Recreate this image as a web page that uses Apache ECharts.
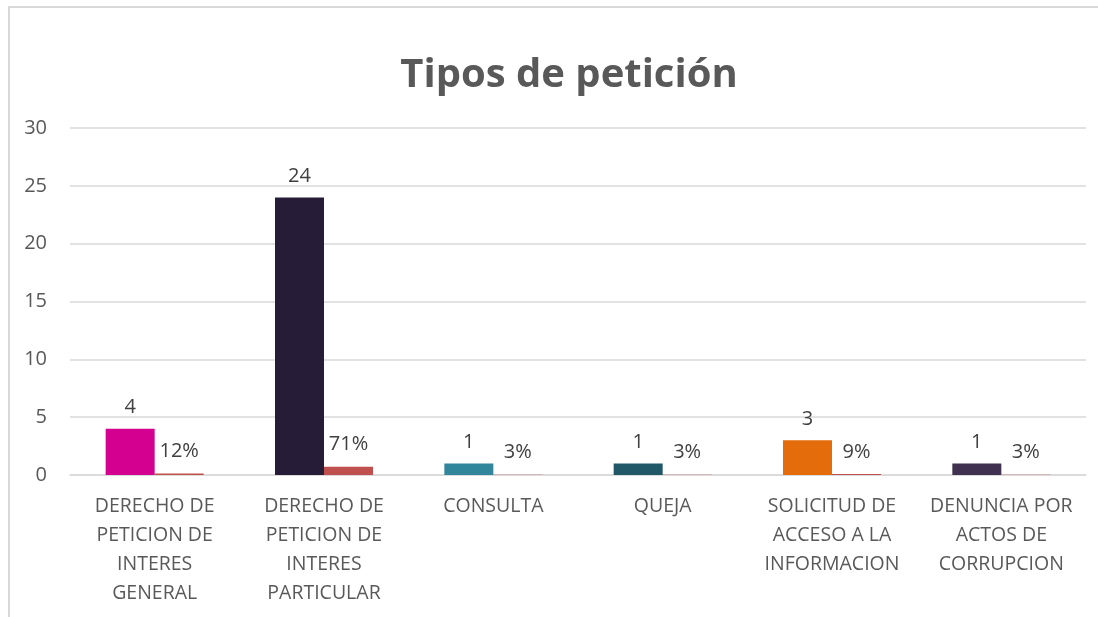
<!DOCTYPE html>
<html>
<head>
<meta charset="utf-8">
<script src="https://cdn.jsdelivr.net/npm/echarts@6/dist/echarts.min.js"></script>
<style>
html,body{margin:0;padding:0;background:#fff;}
#chart{width:1098px;height:617px;}
</style>
</head>
<body>
<div id="chart"></div>
<script>
const categories = [
  "DERECHO DE\nPETICION DE\nINTERES\nGENERAL",
  "DERECHO DE\nPETICION DE\nINTERES\nPARTICULAR",
  "CONSULTA",
  "QUEJA",
  "SOLICITUD DE\nACCESO A LA\nINFORMACION",
  "DENUNCIA POR\nACTOS DE\nCORRUPCION"
];
const counts = [4, 24, 1, 1, 3, 1];
const percents = [0.12, 0.71, 0.03, 0.03, 0.09, 0.03];
const countColors = ["#D4008F", "#261C38", "#31869B", "#215868", "#E46C0A", "#403151"];
const yTicks = [0, 5, 10, 15, 20, 25, 30];

const FONT = "'Open Sans', 'Liberation Sans', sans-serif";
const chart = echarts.init(document.getElementById('chart'));
chart.setOption({
  animation: false,
  backgroundColor: '#ffffff',
  graphic: [{
    type: 'polyline',
    shape: { points: [[9, 617], [9, 7], [1098, 7]] },
    style: { stroke: '#d9d9d9', lineWidth: 2, fill: null },
    silent: true
  }],
  title: {
    text: 'Tipos de petición',
    left: 564,
    top: 51,
    textAlign: 'center',
    textStyle: { fontFamily: FONT, fontSize: 40, fontWeight: 'bold', color: '#595959' }
  },
  grid: { left: 70, right: 12, top: 128, bottom: 142, containLabel: false },
  xAxis: {
    type: 'category',
    data: categories,
    axisLine: { show: true, lineStyle: { color: '#d9d9d9', width: 1.5 } },
    axisTick: { show: false },
    axisLabel: {
      interval: 0,
      fontFamily: FONT,
      fontSize: 19.5,
      color: '#595959',
      lineHeight: 29,
      margin: 17
    }
  },
  yAxis: {
    type: 'value',
    min: yTicks[0],
    max: yTicks[yTicks.length - 1],
    interval: 5,
    axisLine: { show: false },
    axisTick: { show: false },
    splitLine: { lineStyle: { color: '#d9d9d9', width: 1.5 } },
    axisLabel: { fontFamily: FONT, fontSize: 20, color: '#595959', margin: 23 }
  },
  series: [
    {
      name: 'Cantidad',
      type: 'bar',
      barWidth: 49,
      barGap: '0%',
      data: counts.map((v, i) => ({ value: v, itemStyle: { color: countColors[i] } })),
      label: {
        show: true,
        position: 'top',
        distance: 11,
        fontFamily: FONT,
        fontSize: 20,
        color: '#404040'
      }
    },
    {
      name: 'Porcentaje',
      type: 'bar',
      barWidth: 49,
      barGap: '0%',
      data: percents,
      itemStyle: { color: '#C0504D' },
      label: {
        show: true,
        position: 'top',
        distance: 12,
        fontFamily: FONT,
        fontSize: 20,
        color: '#404040',
        formatter: p => Math.round(p.value * 100) + '%'
      }
    }
  ]
});
</script>
</body>
</html>
